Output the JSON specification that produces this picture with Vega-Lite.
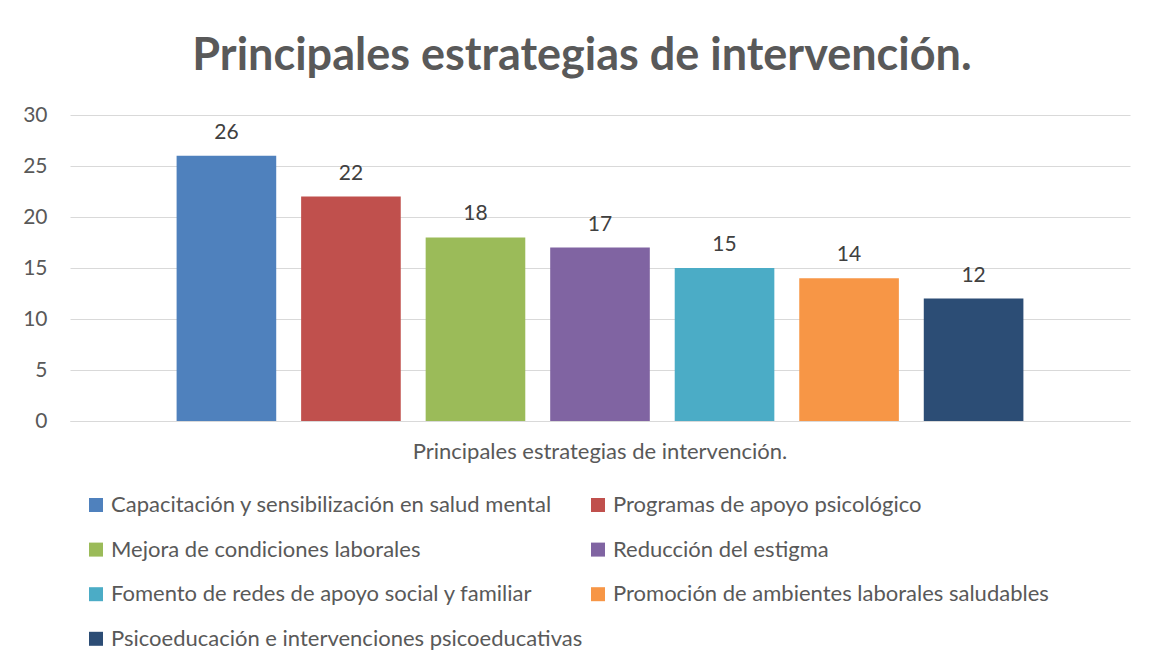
{
  "$schema": "https://vega.github.io/schema/vega-lite/v6.json",
  "width": 1060,
  "height": 306,
  "autosize": {"type": "none"},
  "padding": {"left": 70, "top": 115, "right": 27, "bottom": 251},
  "background": "white",
  "title": {
    "text": "Principales estrategias de intervención.",
    "font": "Lato",
    "fontSize": 45,
    "fontWeight": "bold",
    "color": "#595959",
    "anchor": "middle",
    "dx": -18,
    "offset": 25
  },
  "data": {
    "values": [
      {"categoria": "Principales estrategias de intervención.", "estrategia": "Capacitación y sensibilización en salud mental", "valor": 26},
      {"categoria": "Principales estrategias de intervención.", "estrategia": "Programas de apoyo psicológico", "valor": 22},
      {"categoria": "Principales estrategias de intervención.", "estrategia": "Mejora de condiciones laborales", "valor": 18},
      {"categoria": "Principales estrategias de intervención.", "estrategia": "Reducción del estigma", "valor": 17},
      {"categoria": "Principales estrategias de intervención.", "estrategia": "Fomento de redes de apoyo social y familiar", "valor": 15},
      {"categoria": "Principales estrategias de intervención.", "estrategia": "Promoción de ambientes laborales saludables", "valor": 14},
      {"categoria": "Principales estrategias de intervención.", "estrategia": "Psicoeducación e intervenciones psicoeducativas", "valor": 12}
    ]
  },
  "encoding": {
    "x": {
      "field": "categoria",
      "type": "nominal",
      "scale": {"paddingInner": 0, "paddingOuter": 0.108},
      "axis": {
        "title": null,
        "labelAngle": 0,
        "ticks": false,
        "domainColor": "#d9d9d9",
        "labelFont": "Lato",
        "labelFontSize": 22,
        "labelColor": "#595959",
        "labelPadding": 20,
        "labelLimit": 800
      }
    },
    "xOffset": {
      "field": "estrategia",
      "type": "nominal",
      "sort": [
        "Capacitación y sensibilización en salud mental",
        "Programas de apoyo psicológico",
        "Mejora de condiciones laborales",
        "Reducción del estigma",
        "Fomento de redes de apoyo social y familiar",
        "Promoción de ambientes laborales saludables",
        "Psicoeducación e intervenciones psicoeducativas"
      ],
      "scale": {"paddingInner": 0.2, "paddingOuter": 0.1}
    },
    "y": {
      "field": "valor",
      "type": "quantitative",
      "scale": {"domain": [0, 30]},
      "axis": {
        "title": null,
        "values": [0, 5, 10, 15, 20, 25, 30],
        "domain": false,
        "ticks": false,
        "labelPadding": 23,
        "gridColor": "#d9d9d9",
        "labelFont": "Lato",
        "labelFontSize": 21,
        "labelColor": "#595959"
      }
    }
  },
  "layer": [
    {
      "mark": {"type": "bar"},
      "encoding": {
        "color": {
          "field": "estrategia",
          "type": "nominal",
          "scale": {
            "domain": [
              "Capacitación y sensibilización en salud mental",
              "Programas de apoyo psicológico",
              "Mejora de condiciones laborales",
              "Reducción del estigma",
              "Fomento de redes de apoyo social y familiar",
              "Promoción de ambientes laborales saludables",
              "Psicoeducación e intervenciones psicoeducativas"
            ],
            "range": ["#4F81BD", "#C0504D", "#9BBB59", "#8064A2", "#4BACC6", "#F79646", "#2C4D75"]
          },
          "legend": {
            "title": null,
            "orient": "none",
            "direction": "horizontal",
            "legendX": 15,
            "legendY": 379,
            "columns": 2,
            "rowPadding": 22.6,
            "columnPadding": 4,
            "symbolType": "square",
            "symbolSize": 196,
            "symbolStrokeWidth": 0,
            "labelFont": "Lato",
            "labelFontSize": 22,
            "labelColor": "#595959",
            "labelOffset": 4,
            "labelLimit": 700
          }
        }
      }
    },
    {
      "mark": {"type": "text", "baseline": "alphabetic", "dy": -17, "font": "Lato", "fontSize": 21, "color": "#404040"},
      "encoding": {"text": {"field": "valor", "type": "quantitative"}}
    }
  ],
  "config": {"view": {"stroke": null}}
}
